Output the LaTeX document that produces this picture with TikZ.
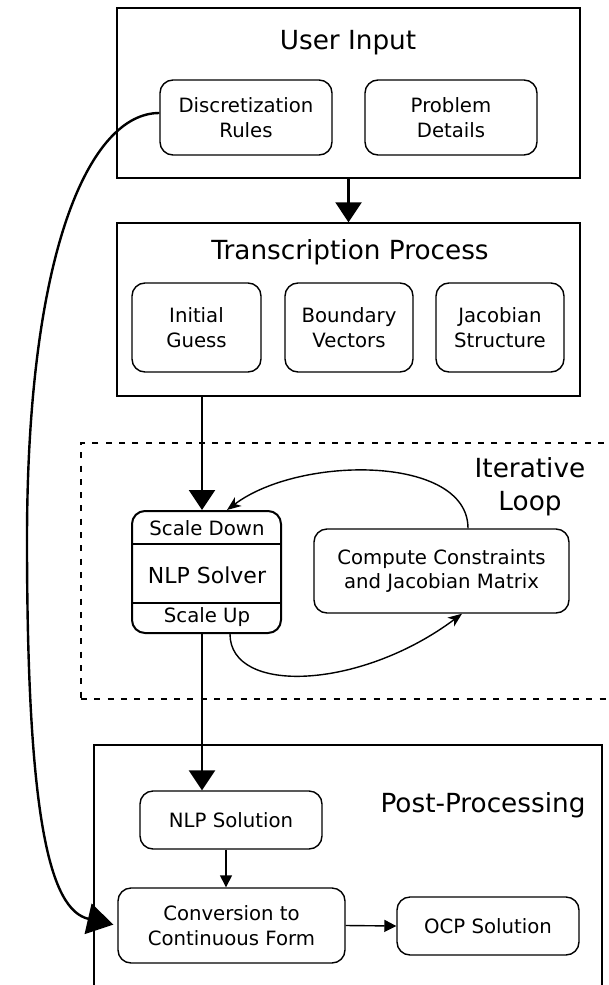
\documentclass[tikz,border=0pt]{standalone}
\usepackage{fontspec}
\setmainfont{DejaVu Sans}
\usetikzlibrary{arrows.meta}

\newcommand\dgbody{\fontsize{19.7pt}{24.5pt}\selectfont}
\newcommand\dgbig{\fontsize{22pt}{26pt}\selectfont}
\newcommand\dgtitle{\fontsize{26.3pt}{33pt}\selectfont}

\begin{document}
\begin{tikzpicture}[x=1pt,y=-1pt,
  group/.style={draw, line width=1.4pt, inner sep=0pt},
  loopframe/.style={draw, line width=2pt, dash pattern=on 6pt off 7.3pt, inner sep=0pt},
  sub/.style={draw, rounded corners=13pt, line width=1.4pt, align=center,
    inner sep=0pt, font=\dgbody},
  title/.style={align=center, inner sep=0pt, font=\dgtitle},
  label/.style={inner sep=0pt, font=\dgbody},
  bigflow/.style={line width=2.4pt, -{Triangle[length=20pt,width=26pt]}},
  smallflow/.style={line width=1.4pt, -{Triangle[length=12pt,width=12pt]}},
  loopflow/.style={line width=1.4pt, -{Stealth[length=14pt,width=11pt,inset=4pt]}}
]
\useasboundingbox (0,0) rectangle (608,985);
\clip (0,0) rectangle (608,985);

% --- User input ---
\node[group, minimum width=463pt, minimum height=170pt] (user) at (348.5,93) {};
\node[title] (usertitle) at (348,43) {User Input};
\node[sub, minimum width=172pt, minimum height=75pt] (disc) at (246,117.5) {Discretization\\Rules};
\node[sub, minimum width=172pt, minimum height=75pt] (prob) at (451,117.5) {Problem\\Details};

% --- Transcription ---
\node[group, minimum width=463pt, minimum height=173pt] (trans) at (348.5,309.5) {};
\node[title] (transtitle) at (350,252) {Transcription Process};
\node[sub, minimum width=129pt, minimum height=89pt] (init) at (196.5,327.5) {Initial\\Guess};
\node[sub, minimum width=128pt, minimum height=89pt] (bound) at (349,327.5) {Boundary\\Vectors};
\node[sub, minimum width=128pt, minimum height=89pt] (jac) at (500,327.5) {Jacobian\\Structure};

% --- Iterative loop ---
\node[loopframe, minimum width=559pt, minimum height=256pt] (loop) at (360.5,571) {};
\node[title] (looptitle) at (530,487) {Iterative\\Loop};
\node[draw, rounded corners=13pt, line width=2pt, inner sep=0pt,
  minimum width=149pt, minimum height=122pt] (solver) at (206.5,572) {};
\draw[line width=2pt] (solver.west |- 0,544) -- (solver.east |- 0,544);
\draw[line width=2pt] (solver.west |- 0,603) -- (solver.east |- 0,603);
\node[label] (scaledown) at (207,528) {Scale Down};
\node[inner sep=0pt, font=\dgbig] (solvername) at (207,575) {NLP Solver};
\node[label] (scaleup) at (207,617) {Scale Up};
\node[sub, minimum width=255pt, minimum height=84pt] (compute) at (441.5,571)
  {Compute Constraints\\and Jacobian Matrix};

% --- Post-processing ---
\node[group, minimum width=508pt, minimum height=260pt] (post) at (348,875) {};
\node[title] (posttitle) at (483,805) {Post-Processing};
\node[sub, minimum width=182pt, minimum height=58pt] (nlpsol) at (231,820) {NLP Solution};
\node[sub, minimum width=227pt, minimum height=75pt] (conv) at (231.5,925.5) {Conversion to\\Continuous Form};
\node[sub, minimum width=182pt, minimum height=58pt] (ocp) at (488,926) {OCP Solution};

% --- connectors ---
\coordinate (mainline) at (202,0);
\coordinate (sollink) at (226,0);
\draw[bigflow] (user.south) -- (trans.north);
\draw[bigflow] (trans.south -| mainline) -- (solver.north -| mainline);
\draw[bigflow] (solver.south -| mainline) -- (nlpsol.north -| mainline);
\draw[smallflow] (nlpsol.south -| sollink) -- (conv.north -| sollink);
\draw[smallflow] (conv.east) -- (ocp.west);

\draw[loopflow] ([xshift=26.5pt]compute.north) .. controls (468,455) and (300,455) ..
  ([xshift=20.5pt]solver.north);
\draw[loopflow] ([xshift=23.5pt]solver.south) .. controls (230,695) and (360,690) ..
  ([xshift=20.5pt]compute.south);

\coordinate (bend) at (27,540);
\draw[line width=2.4pt] ([yshift=4.5pt]disc.west) .. controls (90,113) and (27,250) .. (bend);
\draw[line width=2.4pt, -{Triangle[length=26pt,width=31pt]}, shorten >=4pt]
  (bend) .. controls (27,820) and (50,910) .. (conv.west);
\end{tikzpicture}
\end{document}
